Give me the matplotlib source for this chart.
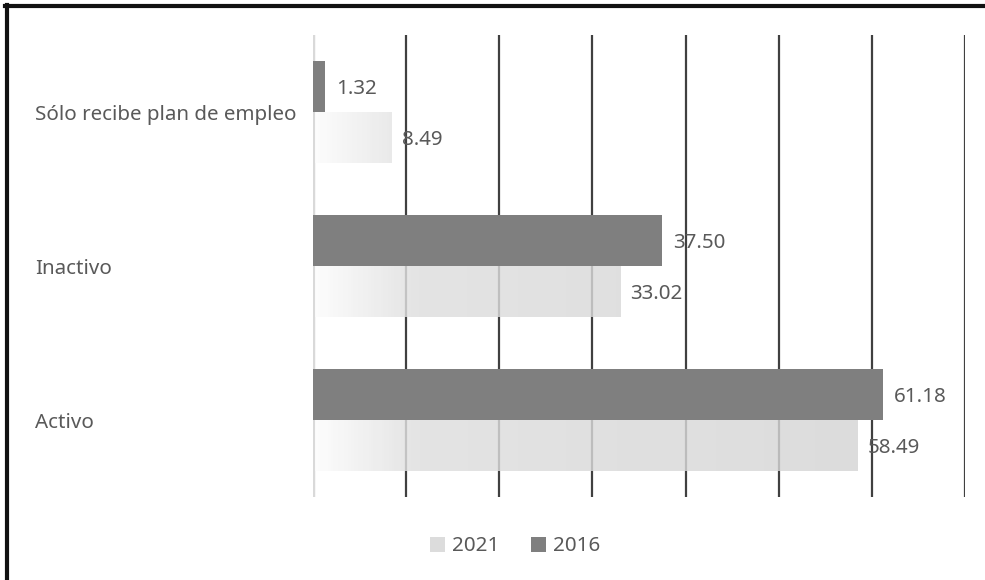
import numpy as np
import matplotlib
matplotlib.use("Agg")
import matplotlib.pyplot as plt
from matplotlib.patches import Patch
from matplotlib.lines import Line2D
from matplotlib.colors import LinearSegmentedColormap, Normalize

categories = ["Sólo recibe plan de empleo", "Inactivo", "Activo"]
values_2016 = [1.32, 37.50, 61.18]
values_2021 = [8.49, 33.02, 58.49]
labels_2016 = ["1.32", "37.50", "61.18"]
labels_2021 = ["8.49", "33.02", "58.49"]
x_ticks = [0, 10, 20, 30, 40, 50, 60, 70]

plt.rcParams["font.family"] = ["Noto Sans", "DejaVu Sans"]
TEXT = "#595959"
DARK = "#7f7f7f"
FS = 14.8

fig = plt.figure(figsize=(9.85, 5.8), dpi=100)
ax = fig.add_axes([0.3178, 0.1431, 0.6619, 0.7966])

bar_h = 0.33
y = np.arange(len(categories))

# grid lines behind the bars
for t in x_ticks:
    if t == 0:
        ax.axvline(t, color="#d9d9d9", lw=2.5, zorder=0)
    else:
        ax.axvline(t, color="#404040", lw=1.6, zorder=0)

ax.barh(y - bar_h / 2, values_2016, height=bar_h, color=DARK, zorder=3)

# 2021 bars: white -> gray gradient along x, a bit see-through
grad = LinearSegmentedColormap.from_list(
    "g", [(0, "#fcfcfc"), (11 / 70, "#dedede"), (1, "#d3d3d3")])
norm = Normalize(0, 70)
for yi, v in zip(y, values_2021):
    xs = np.linspace(0, v, 800).reshape(1, -1)
    ax.imshow(xs, cmap=grad, norm=norm, aspect="auto", alpha=0.82, zorder=2,
              extent=(0.25, v, yi + bar_h, yi), interpolation="nearest")

for yi, v, s in zip(y, values_2016, labels_2016):
    ax.annotate(s, (v, yi - bar_h / 2), xytext=(8, -2), textcoords="offset points",
                va="center", ha="left", fontsize=FS, color=TEXT)
for yi, v, s in zip(y, values_2021, labels_2021):
    ax.annotate(s, (v, yi + bar_h / 2), xytext=(7, -2), textcoords="offset points",
                va="center", ha="left", fontsize=FS, color=TEXT)

ax.set_xlim(0, 70)
ax.set_ylim(2.5, -0.5)
ax.set_xticks([])
ax.set_yticks([])
for yi, c in zip(y, categories):
    ax.annotate(c, (-0.4264, yi), xycoords=ax.get_yaxis_transform(),
                xytext=(0, -2.5), textcoords="offset points",
                ha="left", va="center", fontsize=FS, color=TEXT)
for sp in ax.spines.values():
    sp.set_visible(False)

handles = [Patch(facecolor="#dcdcdc", label="2021"),
           Patch(facecolor=DARK, label="2016")]
leg = fig.legend(handles=handles, loc="center", bbox_to_anchor=(0.523, 0.058),
                 ncol=2, frameon=False, fontsize=FS, handlelength=0.75,
                 handleheight=0.75, handletextpad=0.35, columnspacing=1.5)
for t in leg.get_texts():
    t.set_color(TEXT)

# frame on the left and top of the picture
fig.add_artist(Line2D([0.0066, 0.0066], [0, 0.991], color="#111111", lw=3,
                      transform=fig.transFigure))
fig.add_artist(Line2D([0.005, 1], [0.9895, 0.9895], color="#111111", lw=3,
                      transform=fig.transFigure))

fig.savefig("out.png", dpi=100)
